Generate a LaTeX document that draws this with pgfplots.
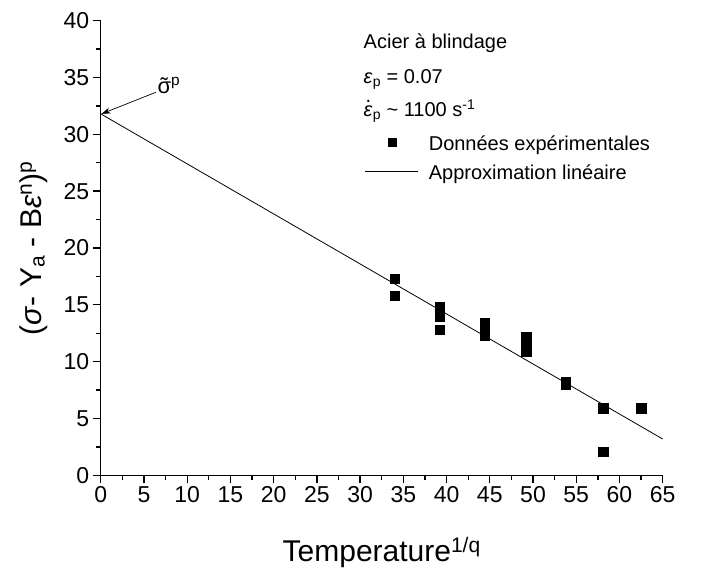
\documentclass[border=0pt]{standalone}
\usepackage{fontspec}
\setmainfont{Liberation Sans}
\usepackage{pgfplots}
\pgfplotsset{compat=1.18}
\usetikzlibrary{arrows.meta}

\pgfplotstableread{
x y
34.0 17.3
34.0 15.8
39.2 14.8
39.2 14.0
39.2 12.8
44.4 13.4
44.4 12.5
44.4 12.3
49.2 12.2
49.2 11.5
49.2 10.9
53.8 8.2
53.8 8.0
58.1 5.9
58.1 2.1
62.5 5.9
}\expdata

\pgfplotsset{
  legmark/.style={legend image code/.code={\draw[##1, mark size=3.8pt] plot coordinates {(26.5pt,8.3pt)};}},
  legline/.style={legend image code/.code={\draw[##1] (0pt,8.3pt) -- (53pt,8.3pt);}},
}

\begin{document}
\begin{tikzpicture}
\path[use as bounding box] (-100.7pt,-94.6pt) rectangle (612.3pt,475.4pt);
\begin{axis}[
  at={(0pt,0pt)}, anchor=south west,
  scale only axis, width=562pt, height=454.8pt,
  xmin=0, xmax=65, ymin=0, ymax=40,
  axis x line*=bottom, axis y line*=left,
  axis line style={line width=1.3pt},
  xtick={0,5,...,65}, ytick={0,5,...,40},
  minor x tick num=1, minor y tick num=1,
  tick align=outside,
  major tick length=8pt, minor tick length=4.5pt,
  every tick/.style={line width=1.3pt, black},
  ticklabel style={font=\fontsize{23}{27}\selectfont},
  /pgf/number format/assume math mode=true,
  xlabel={Temperature\textsuperscript{1/q}},
  xlabel style={font=\fontsize{30}{36}\selectfont, at={(axis description cs:0.5,0)}, anchor=base, yshift=-86pt},
  ylabel={(\textit{σ}- Y\textsubscript{a} - B\textit{ε}\textsuperscript{n})\textsuperscript{p}},
  ylabel style={font=\fontsize{30}{36}\selectfont, at={(axis description cs:-0.1062,0.50)}, anchor=base},
  clip=false,
  legend style={draw=none, fill=none, inner sep=0pt, outer sep=0pt,
    at={(axis cs:30.57,29.88)}, anchor=north west,
    font=\fontsize{20}{24}\selectfont,
    nodes={inner sep=0pt, text height=15pt, text depth=5pt},
    cells={anchor=base west}, row sep=8.6pt, column sep=10pt},
]
\addplot[only marks, mark=square*, mark size=4.7pt, black, legmark]
  table[x=x, y=y] {\expdata};
\addlegendentry{Données expérimentales}
\addplot[black, line width=0.8pt, mark=none, legline]
  coordinates {(0,31.8) (65,3.2)};
\addlegendentry{Approximation linéaire}

\node[anchor=base west, inner sep=0pt, font=\fontsize{20}{24}\selectfont] at (axis cs:30.4,37.56) {Acier à blindage};
\node[anchor=base west, inner sep=0pt, font=\fontsize{20}{24}\selectfont] at (axis cs:30.4,34.49) {\textit{ε}\textsubscript{p} = 0.07};
\node[anchor=base west, inner sep=0pt, font=\fontsize{20}{24}\selectfont] at (axis cs:30.4,31.55) {\makebox[0pt][l]{\raisebox{0.7em}{\kern0.1em .}}\textit{ε}\textsubscript{p} \textasciitilde{} 1100 s\textsuperscript{-1}};

\draw[-{Stealth[length=9pt,width=6pt]}, line width=0.7pt] (axis cs:6.4,33.7) -- (axis cs:0.1,31.8);
\node[anchor=base west, inner sep=0pt, font=\fontsize{22}{26}\selectfont] at (axis cs:6.55,33.6) {\ooalign{σ\cr\hidewidth ˜\hidewidth\cr}\textsuperscript{p}};
\end{axis}
\end{tikzpicture}
\end{document}
